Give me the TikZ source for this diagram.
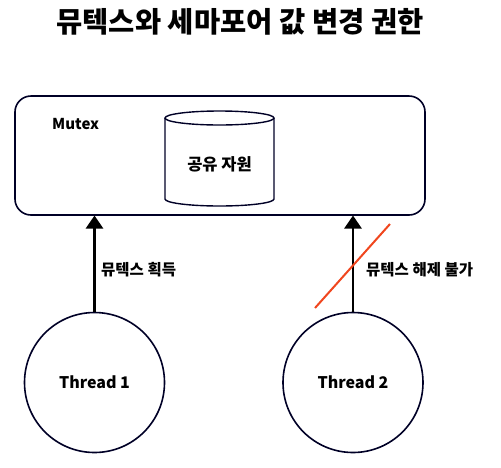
\documentclass[tikz,border=0pt]{standalone}
\usepackage{fontspec}
\setmainfont{Noto Sans CJK KR}
\usetikzlibrary{arrows.meta,shapes.geometric}
\begin{document}
\begin{tikzpicture}[x=1pt,y=-1pt,
  lbl/.style={font=\bfseries\fontsize{15.5}{17}\selectfont, inner sep=0pt, anchor=west},
  thr/.style={draw=black!85!blue, line width=1.6pt, circle, minimum size=140pt, inner sep=0pt, font=\bfseries\fontsize{16}{18}\selectfont},
  arr/.style={line width=2.6pt, -{Triangle[length=13pt,width=17pt]}}]
\useasboundingbox (0,0) rectangle (501,467);
\node[font=\bfseries\fontsize{28.5}{32}\selectfont] (title) at (240,22) {뮤텍스와 세마포어 값 변경 권한};
\node[draw=black!85!blue, line width=1.6pt, rounded corners=16pt, minimum width=410pt, minimum height=119pt, inner sep=0pt] (mutex) at (220,155.5) {};
\node[font=\bfseries\fontsize{15}{17}\selectfont, inner sep=0pt, anchor=west] (mlabel) at (52,124) {Mutex};
% cylinder
\coordinate (cyltop) at (219.5,118);
\draw[line width=1.4pt, draw=black!85!blue] (165,118) -- (165,199) arc[start angle=180, end angle=360, x radius=54.5pt, y radius=7pt] -- (274,118);
\draw[line width=1.4pt, draw=black!85!blue] (cyltop) ellipse[x radius=54.5pt, y radius=7pt];
\node[font=\bfseries\fontsize{16.5}{18}\selectfont] (res) at (219.5,164) {공유 자원};
\node[thr] (t1) at (94.5,382.5) {Thread 1};
\node[thr] (t2) at (353,382.5) {Thread 2};
\coordinate (a1) at (94.5,215.5);
\coordinate (a2) at (353,215.5);
\draw[arr] (t1.north) -- (a1);
\draw[arr] (t2.north) -- (a2);
\node[lbl] (l1) at (101,270) {뮤텍스 획득};
\node[lbl] (l2) at (366,270) {뮤텍스 해제 불가};
\coordinate (r1) at (315,308);
\coordinate (r2) at (390,224);
\draw[line width=2pt, draw={rgb,255:red,240;green,70;blue,30}] (r1) -- (r2);
\end{tikzpicture}
\end{document}
